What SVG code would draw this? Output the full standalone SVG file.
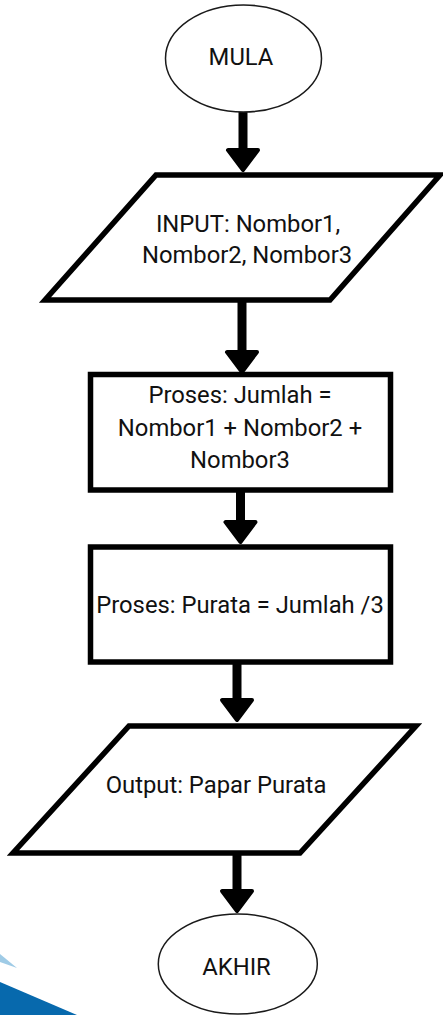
<svg xmlns="http://www.w3.org/2000/svg" width="443" height="1015" viewBox="0 0 443 1015">
  <style>
    .term { fill: #ffffff; stroke: #1a1a1a; stroke-width: 1.5; }
    .box { fill: #ffffff; stroke: #000000; stroke-width: 5.5; stroke-linejoin: miter; }
    .lbl { font-family: Roboto, "Liberation Sans", sans-serif; font-size: 23.8px; fill: #111111; text-anchor: middle; }
    .conn { stroke: #000000; stroke-width: 9; fill: none; marker-end: url(#head); }
  </style>
  <defs>
    <marker id="head" markerUnits="userSpaceOnUse" viewBox="0 0 26 34" markerWidth="26" markerHeight="34" refX="3" refY="17" orient="auto" overflow="visible">
      <path d="M3,2 L23,17 L3,32 Z" fill="#000000" stroke="#000000" stroke-width="4" stroke-linejoin="round"/>
    </marker>
  </defs>
  <rect width="443" height="1015" fill="#ffffff"/>

  <g id="decoration">
    <polygon points="0,954 17,968 0,962" fill="#9fcbe6"/>
    <polygon points="0,982 77,1015 0,1015" fill="#0769ad"/>
  </g>

  <g id="connectors">
    <line class="conn" x1="243" y1="111" x2="243" y2="150"/>
    <line class="conn" x1="242" y1="301" x2="242" y2="352"/>
    <line class="conn" x1="240.5" y1="490" x2="240.5" y2="522"/>
    <line class="conn" x1="237" y1="662" x2="237" y2="700"/>
    <line class="conn" x1="237" y1="853" x2="237" y2="891"/>
  </g>

  <g id="mula">
    <ellipse class="term" cx="243.5" cy="58.5" rx="78" ry="53.5"/>
    <text class="lbl" x="241" y="65">MULA</text>
  </g>

  <g id="input">
    <polygon class="box" points="156,175 440,175 330,300 45,300"/>
    <text class="lbl" x="248" y="231.5">INPUT: Nombor1,</text>
    <text class="lbl" x="247" y="263">Nombor2, Nombor3</text>
  </g>

  <g id="proses-jumlah">
    <rect class="box" x="90.5" y="374.5" width="300" height="115.5"/>
    <text class="lbl" x="240" y="403">Proses: Jumlah =</text>
    <text class="lbl" x="240" y="436">Nombor1 + Nombor2 +</text>
    <text class="lbl" x="240" y="468">Nombor3</text>
  </g>

  <g id="proses-purata">
    <rect class="box" x="90.5" y="547" width="300" height="115"/>
    <text class="lbl" x="240" y="613">Proses: Purata = Jumlah /3</text>
  </g>

  <g id="output">
    <polygon class="box" points="129,726 416,726 300,853 13,853"/>
    <text class="lbl" x="216" y="793">Output: Papar Purata</text>
  </g>

  <g id="akhir">
    <ellipse class="term" cx="237.8" cy="964" rx="79.5" ry="50"/>
    <text class="lbl" x="236.5" y="975">AKHIR</text>
  </g>
</svg>
